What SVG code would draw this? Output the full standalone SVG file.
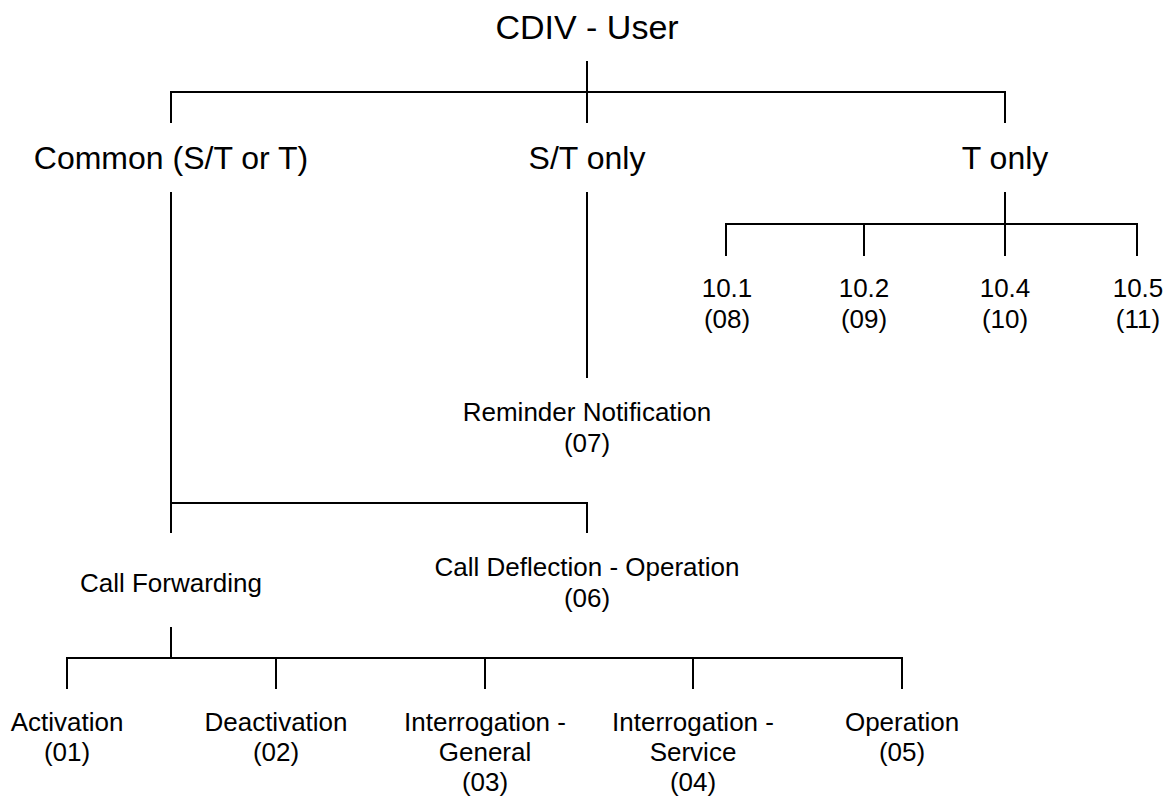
<svg xmlns="http://www.w3.org/2000/svg" width="1170" height="796" viewBox="0 0 1170 796">
<style>
.t{font-family:"Liberation Sans",Arial,sans-serif;fill:#000;text-anchor:middle}
.t0{font-size:34px}
.t1{font-size:32px}
.t2{font-size:26px}
.c{fill:none;stroke:#000;stroke-width:2;stroke-linejoin:miter;stroke-linecap:butt}
</style>
<rect width="1170" height="796" fill="#fff"/>
<g id="connectors">
<path class="c" d="M587 61V92M171 123V92H1005V123M587 92V123"/>
<path class="c" d="M587 192V378"/>
<path class="c" d="M1005 192V224M726 256V224H1137V256M864 224V256M1005 224V256"/>
<path class="c" d="M171 192V533M171 503H587V533"/>
<path class="c" d="M171 627V658M67 689V658H902V689M276 658V689M485 658V689M693 658V689"/>
</g>
<g id="cdiv-user"><text class="t t0" x="587" y="39">CDIV - User</text></g>
<g id="common"><text class="t t1" x="171" y="169">Common (S/T or T)</text></g>
<g id="st-only"><text class="t t1" x="587" y="169">S/T only</text></g>
<g id="t-only"><text class="t t1" x="1005" y="169">T only</text></g>
<g id="n08"><text class="t t2" x="727" y="297">10.1<tspan x="727" dy="30.5">(08)</tspan></text></g>
<g id="n09"><text class="t t2" x="864" y="297">10.2<tspan x="864" dy="30.5">(09)</tspan></text></g>
<g id="n10"><text class="t t2" x="1005" y="297">10.4<tspan x="1005" dy="30.5">(10)</tspan></text></g>
<g id="n11"><text class="t t2" x="1138" y="297">10.5<tspan x="1138" dy="30.5">(11)</tspan></text></g>
<g id="n07"><text class="t t2" x="587" y="421">Reminder Notification<tspan x="587" dy="30.5">(07)</tspan></text></g>
<g id="call-forwarding"><text class="t t2" x="171" y="592">Call Forwarding</text></g>
<g id="n06"><text class="t t2" x="587" y="576">Call Deflection - Operation<tspan x="587" dy="30.5">(06)</tspan></text></g>
<g id="n01"><text class="t t2" x="67" y="731">Activation<tspan x="67" dy="30">(01)</tspan></text></g>
<g id="n02"><text class="t t2" x="276" y="731">Deactivation<tspan x="276" dy="30">(02)</tspan></text></g>
<g id="n03"><text class="t t2" x="485" y="731">Interrogation -<tspan x="485" dy="30">General</tspan><tspan x="485" dy="30">(03)</tspan></text></g>
<g id="n04"><text class="t t2" x="693" y="731">Interrogation -<tspan x="693" dy="30">Service</tspan><tspan x="693" dy="30">(04)</tspan></text></g>
<g id="n05"><text class="t t2" x="902" y="731">Operation<tspan x="902" dy="30">(05)</tspan></text></g>
</svg>
